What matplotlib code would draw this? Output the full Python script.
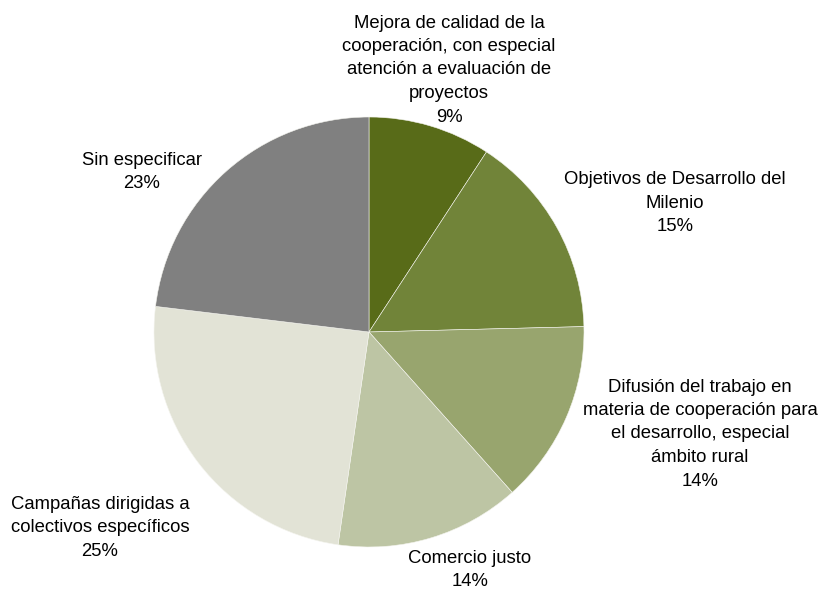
import matplotlib
matplotlib.use("Agg")
import matplotlib.pyplot as plt

labels = [
    "Mejora de calidad de la\ncooperación, con especial\natención a evaluación de\nproyectos",
    "Objetivos de Desarrollo del\nMilenio",
    "Difusión del trabajo en\nmateria de cooperación para\nel desarrollo, especial\námbito rural",
    "Comercio justo",
    "Campañas dirigidas a\ncolectivos específicos",
    "Sin especificar",
]
shares = [9.2, 15.4, 13.8, 13.9, 24.6, 23.1]
colors = ["#586b18", "#718439", "#98a56e", "#bdc5a4", "#e2e3d6", "#808080"]

# label anchor points (figure pixels, y down)
label_pos = [(449, 70), (675, 203), (700, 434), (470, 570), (100, 528), (142, 172)]

plt.rcParams["font.family"] = ["Liberation Sans", "DejaVu Sans"]

W, H = 819, 590
fig = plt.figure(figsize=(W / 100, H / 100), dpi=100)
ax = fig.add_axes([0, 0, 1, 1])

ax.pie(shares, colors=colors, startangle=90, counterclock=False,
       center=(369, -332), radius=215,
       wedgeprops=dict(edgecolor="#f4f4ee", linewidth=0.4))

# pie() resets the limits, so fix them afterwards
ax.set_xlim(0, W)
ax.set_ylim(-H, 0)
ax.set_aspect("equal")
ax.axis("off")

for lab, val, (x, y) in zip(labels, shares, label_pos):
    ax.text(x, -y, f"{lab}\n{round(val):d}%", ha="center", va="center",
            fontsize=13.3, linespacing=1.5, color="black")

fig.savefig("out.png", dpi=100, facecolor="white")
